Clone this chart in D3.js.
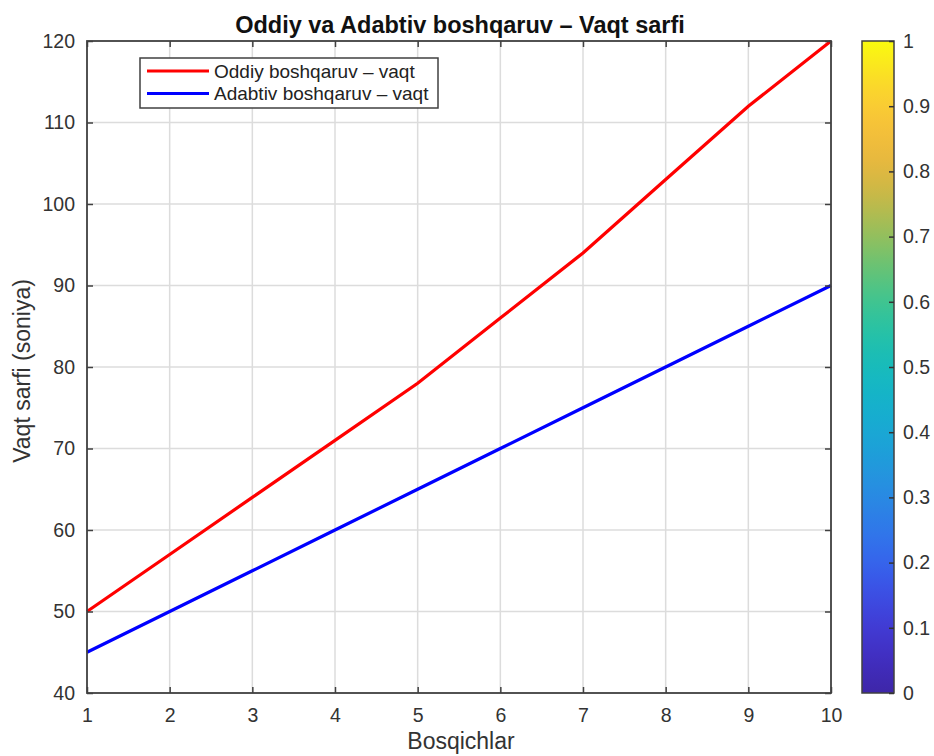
<!DOCTYPE html>
<html><head><meta charset="utf-8">
<script src="https://cdn.jsdelivr.net/npm/d3@7"></script>
<style>body{margin:0;background:#fff;}svg{display:block;font-family:"Liberation Sans",Arial,sans-serif;}</style>
</head><body><svg id="c" width="934" height="756"></svg>
<script>
const steps = [1,2,3,4,5,6,7,8,9,10];
const oddiy = [50,57,64,71,78,86,94,103,112,120];
const adabtiv = [45,50,55,60,65,70,75,80,85,90];
const yTicks = [40,50,60,70,80,90,100,110,120];
const cbTicks = [0,0.1,0.2,0.3,0.4,0.5,0.6,0.7,0.8,0.9,1];
const seriesNames = ["Oddiy boshqaruv – vaqt","Adabtiv boshqaruv – vaqt"];
const parulaStops = ["#3e26a8","#4435d6","#3566f2","#2a8ae2","#18a9d6","#10bcbf","#38c792","#92c05a","#eab23c","#fcc63a","#f9fb0e"];

const svg = d3.select("#c");
const L=87,R=831,T=41,B=693;
const x = d3.scaleLinear().domain([1,10]).range([L,R]);
const y = d3.scaleLinear().domain([40,120]).range([B,T]);
const axisCol="#404040", txtCol="#333";
const FF="Liberation Sans, Arial, sans-serif";

// grid
svg.append("g").selectAll("line").data(steps.slice(1,-1)).join("line")
 .attr("x1",d=>x(d)).attr("x2",d=>x(d)).attr("y1",T).attr("y2",B)
 .attr("stroke","#dcdcdc").attr("stroke-width",1.5);
svg.append("g").selectAll("line").data(yTicks.slice(1,-1)).join("line")
 .attr("y1",d=>y(d)).attr("y2",d=>y(d)).attr("x1",L).attr("x2",R)
 .attr("stroke","#dcdcdc").attr("stroke-width",1.5);

// lines
const line = d3.line().x((d,i)=>x(steps[i])).y(d=>y(d));
svg.append("path").datum(adabtiv).attr("d",line).attr("fill","none").attr("stroke","#0000ff").attr("stroke-width",3.2);
svg.append("path").datum(oddiy).attr("d",line).attr("fill","none").attr("stroke","#ff0000").attr("stroke-width",3.2);

// axes
const fmt = d=>d;
const ax = (g,axis)=>{g.call(axis);g.select(".domain").remove();g.selectAll("line").attr("stroke",axisCol).attr("stroke-width",1.5);g.selectAll("text").attr("fill",txtCol).attr("font-size",19.5).attr("font-family",FF);};
svg.append("g").attr("transform",`translate(0,${B})`).call(g=>ax(g,d3.axisBottom(x).tickValues(steps).tickFormat(fmt).tickSizeInner(-6).tickSizeOuter(0).tickPadding(15)));
svg.append("g").attr("transform",`translate(0,${T})`).call(g=>ax(g,d3.axisTop(x).tickValues(steps).tickFormat("").tickSizeInner(-6).tickSizeOuter(0)));
svg.append("g").attr("transform",`translate(${L},0)`).call(g=>ax(g,d3.axisLeft(y).tickValues(yTicks).tickFormat(fmt).tickSizeInner(-6).tickSizeOuter(0).tickPadding(12)));
svg.append("g").attr("transform",`translate(${R},0)`).call(g=>ax(g,d3.axisRight(y).tickValues(yTicks).tickFormat("").tickSizeInner(-6).tickSizeOuter(0)));
svg.append("rect").attr("x",L).attr("y",T).attr("width",R-L).attr("height",B-T).attr("fill","none").attr("stroke",axisCol).attr("stroke-width",1.8);

// title and labels
svg.append("text").attr("x",460).attr("y",33).attr("text-anchor","middle").attr("font-weight","bold").attr("font-size",23.5).attr("fill","#111").text("Oddiy va Adabtiv boshqaruv – Vaqt sarfi");
svg.append("text").attr("x",461).attr("y",749).attr("text-anchor","middle").attr("font-size",23).attr("fill",txtCol).text("Bosqichlar");
svg.append("text").attr("transform",`translate(30,${(T+B)/2 + 4}) rotate(-90)`).attr("text-anchor","middle").attr("font-size",23).attr("fill",txtCol).text("Vaqt sarfi (soniya)");

// legend
const lg = svg.append("g");
lg.append("rect").attr("x",140).attr("y",58).attr("width",298).attr("height",50).attr("fill","#fff").attr("stroke",axisCol).attr("stroke-width",1.5);
const cols=["#ff0000","#0000ff"];
seriesNames.forEach((n,i)=>{
  const yy=71+i*22.5;
  lg.append("line").attr("x1",147).attr("x2",209).attr("y1",yy).attr("y2",yy).attr("stroke",cols[i]).attr("stroke-width",3.2);
  lg.append("text").attr("x",214).attr("y",yy+6.5).attr("font-size",19).attr("fill","#222").text(n);
});

// colorbar
const cbL=862,cbR=894;
const cy = d3.scaleLinear().domain([0,1]).range([B,T]);
const cmap = d3.interpolateRgbBasis(parulaStops);
const defs = svg.append("defs");
const grad = defs.append("linearGradient").attr("id","pg").attr("x1",0).attr("y1",1).attr("x2",0).attr("y2",0);
d3.range(0,1.0001,0.02).forEach(t=>grad.append("stop").attr("offset",t).attr("stop-color",cmap(t)));
svg.append("rect").attr("x",cbL).attr("y",T).attr("width",cbR-cbL).attr("height",B-T).attr("fill","url(#pg)").attr("stroke",axisCol).attr("stroke-width",1.5);
svg.append("g").attr("transform",`translate(${cbR},0)`).call(g=>{
  g.call(d3.axisRight(cy).tickValues(cbTicks).tickFormat(d=>d).tickSizeInner(-5).tickSizeOuter(0).tickPadding(9));
  g.select(".domain").remove();
  g.selectAll("line").attr("stroke","#333").attr("stroke-width",1.5);
  g.selectAll("text").attr("fill",txtCol).attr("font-size",19.5).attr("font-family",FF);
});
</script></body></html>
